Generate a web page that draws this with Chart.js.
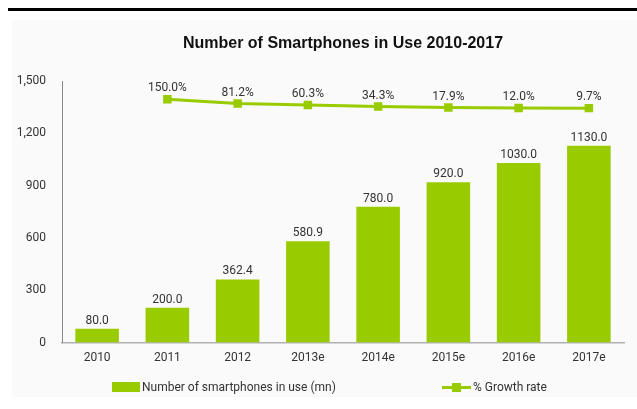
<!DOCTYPE html>
<html lang="en">
<head>
  <meta charset="UTF-8">
  <title>Number of Smartphones in Use 2010-2017</title>
  <script src="https://cdn.jsdelivr.net/npm/chart.js"></script>
  <style>
    html, body { margin: 0; padding: 0; background: #fff; }
    body { width: 637px; height: 409px; position: relative; overflow: hidden; font-family: Roboto, sans-serif; }
    .rule { position: absolute; left: 8px; right: 0; top: 8px; height: 3px; background: #000; }
    .panel { position: absolute; left: 12px; right: 0; top: 20px; bottom: 12px; background: #fafafa; }
    #chartBox { position: absolute; left: 0; top: 0; width: 637px; height: 409px; }
    .legend { position: absolute; top: 380px; font-size: 12px; color: #333; display: flex; align-items: center; }
    .legend .box { width: 28px; height: 10px; background: #99cc00; margin-right: 2px; }
    .legend .ln { width: 29px; height: 3px; background: #99cc00; position: relative; margin-right: 2px; }
    .legend .ln:after { content: ''; position: absolute; left: 10px; top: -3px; width: 9px; height: 9px; background: #99cc00; }
  </style>
</head>
<body>
  <div class="rule"></div>
  <div class="panel"></div>
  <div id="chartBox"><canvas id="myChart" width="637" height="409"></canvas></div>
  <div class="legend" style="left:112px"><span class="box"></span>Number of smartphones in use (mn)</div>
  <div class="legend" style="left:442px"><span class="ln"></span>% Growth rate</div>

  <script>
    const years = ['2010', '2011', '2012', '2013e', '2014e', '2015e', '2016e', '2017e']
    const phones = [80.0, 200.0, 362.4, 580.9, 780.0, 920.0, 1030.0, 1130.0]
    const growth = [null, 150.0, 81.2, 60.3, 34.3, 17.9, 12.0, 9.7]
    const yTicks = [0, 300, 600, 900, 1200, 1500]

    const green = '#99cc00'
    const textColor = '#333'

    // value labels above bars and line points
    const valueLabels = {
      id: 'valueLabels',
      afterDatasetsDraw (chart) {
        const ctx = chart.ctx
        ctx.save()
        ctx.font = '12px Roboto'
        ctx.fillStyle = textColor
        ctx.textAlign = 'center'
        ctx.textBaseline = 'bottom'
        chart.getDatasetMeta(0).data.forEach((bar, i) => {
          ctx.fillText(phones[i].toFixed(1), bar.x, bar.y - 2)
        })
        chart.getDatasetMeta(1).data.forEach((pt, i) => {
          if (growth[i] == null) return
          ctx.fillText(growth[i].toFixed(1) + '%', pt.x, pt.y - 5)
        })
        ctx.restore()
      }
    }

    const ctx = document.getElementById('myChart').getContext('2d')
    new Chart(ctx, {
      type: 'bar',
      data: {
        labels: years,
        datasets: [
          {
            label: 'Number of smartphones in use (mn)',
            data: phones,
            backgroundColor: green,
            barPercentage: 0.62,
            categoryPercentage: 1,
            yAxisID: 'y',
            order: 2
          },
          {
            type: 'line',
            label: '% Growth rate',
            data: growth,
            borderColor: green,
            backgroundColor: green,
            borderWidth: 3,
            pointStyle: 'rect',
            pointRadius: 6,
            pointBorderWidth: 0,
            tension: 0,
            yAxisID: 'y2',
            order: 1
          }
        ]
      },
      options: {
        responsive: false,
        animation: false,
        layout: { padding: { left: 0, right: 13, top: 0, bottom: 36 } },
        plugins: {
          legend: { display: false },
          tooltip: { enabled: false },
          title: {
            display: true,
            fullSize: false,
            text: 'Number of Smartphones in Use 2010-2017',
            color: '#111',
            font: { family: 'Liberation Sans', size: 16, weight: 'bold' },
            padding: { top: 34, bottom: 28 }
          }
        },
        scales: {
          x: {
            grid: { display: false, drawTicks: false },
            border: { color: '#b0b0b0', width: 1.5 },
            ticks: { color: textColor, font: { family: 'Roboto', size: 12 }, padding: 8 }
          },
          y: {
            min: 0,
            max: 1500,
            afterBuildTicks: axis => { axis.ticks = yTicks.map(v => ({ value: v })) },
            afterFit: axis => { axis.width = 62 },
            grid: { display: false, drawTicks: false },
            border: { color: '#888', width: 1 },
            ticks: { color: textColor, font: { family: 'Roboto', size: 12 }, padding: 16 }
          },
          y2: {
            display: false,
            min: -3650,
            max: 430
          }
        }
      },
      plugins: [valueLabels]
    })
  </script>
</body>
</html>
